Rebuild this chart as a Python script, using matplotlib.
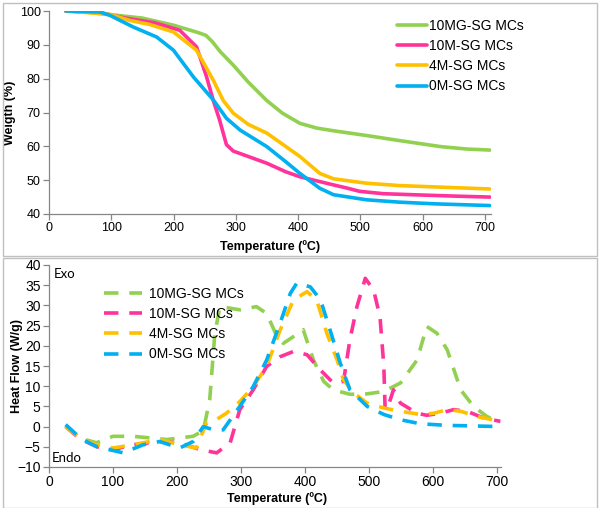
"""TGA and DSC curves of the SG microcapsules"""

import numpy as np
import matplotlib.pyplot as plt
from matplotlib.patches import Rectangle

plt.rcParams['font.family'] = ['Liberation Sans', 'DejaVu Sans']

labels = ['10MG-SG MCs', '10M-SG MCs', '4M-SG MCs', '0M-SG MCs']
colors = ['#92D050', '#FF3399', '#FFC000', '#00B0F0']

# TGA data (weight %)
t_10mg = [27, 60, 100, 150, 200, 240, 252, 262, 275, 296, 320, 350, 375, 403, 430, 457, 510, 563, 600, 630, 671, 708]
w_10mg = [100, 99.7, 98.9, 97.9, 95.8, 93.6, 92.8, 91.0, 88.0, 84.0, 79.0, 73.5, 69.8, 66.8, 65.4, 64.6, 63.2, 61.7, 60.7, 59.9, 59.2, 58.9]

t_10m = [27, 80, 120, 170, 210, 237, 253, 264, 274, 285, 296, 320, 350, 380, 403, 430, 457, 480, 499, 537, 600, 650, 708]
w_10m = [100, 99.6, 98.0, 96.5, 94.3, 89.4, 80.6, 73.5, 67.8, 60.5, 58.6, 57.0, 55.0, 52.5, 51.0, 49.8, 48.6, 47.6, 46.7, 46.0, 45.6, 45.3, 45.0]

t_4m = [27, 98, 130, 162, 200, 237, 264, 280, 296, 320, 350, 380, 403, 435, 457, 510, 563, 620, 708]
w_4m = [100, 99.0, 97.2, 96.0, 93.8, 88.4, 79.5, 73.5, 69.8, 66.5, 63.9, 60.0, 57.0, 52.0, 50.4, 49.1, 48.4, 48.0, 47.4]

t_0m = [27, 82, 98, 135, 173, 200, 232, 264, 285, 307, 350, 380, 403, 435, 457, 510, 563, 620, 708]
w_0m = [100, 99.7, 98.7, 95.3, 92.3, 88.4, 80.5, 73.7, 68.3, 64.8, 59.9, 55.5, 52.0, 47.6, 45.7, 44.2, 43.5, 43.0, 42.5]

# DSC data (heat flow W/g)
d_t_10mg = [26, 48, 74, 100, 131, 184, 225, 241, 251, 259, 267, 283, 298, 324, 340, 356, 366, 382, 397, 413, 429, 444, 470, 497, 523, 549, 575, 590, 606, 622, 643, 663, 684, 705]
d_h_10mg = [0.2, -2.8, -4.0, -2.4, -2.4, -3.2, -2.4, -1.0, 6.6, 23.0, 29.7, 29.3, 28.9, 29.7, 28.0, 22.3, 20.6, 22.3, 24.0, 16.5, 11.2, 9.1, 8.0, 8.1, 8.7, 10.8, 16.5, 24.8, 23.1, 19.0, 9.1, 5.0, 2.5, 0.9]

d_t_10m = [26, 48, 75, 100, 131, 173, 204, 236, 262, 283, 298, 319, 340, 361, 382, 403, 424, 444, 460, 470, 481, 494, 507, 517, 523, 525, 528, 538, 549, 575, 590, 611, 632, 653, 679, 705]
d_h_10m = [0.0, -3.0, -5.0, -5.7, -4.5, -3.7, -4.0, -5.7, -6.5, -4.0, 4.2, 9.1, 14.9, 17.3, 18.6, 17.8, 14.0, 10.8, 11.2, 21.5, 29.7, 36.7, 33.8, 27.2, 14.9, 4.2, 4.2, 9.1, 5.8, 3.3, 2.8, 3.3, 4.2, 3.8, 2.1, 1.3]

d_t_4m = [26, 50, 75, 100, 131, 173, 204, 230, 246, 257, 277, 298, 319, 340, 361, 382, 403, 418, 434, 450, 460, 476, 497, 523, 549, 580, 601, 622, 643, 669, 705]
d_h_4m = [0.0, -3.0, -4.5, -5.3, -4.5, -3.2, -4.5, -5.3, 0.9, 1.3, 3.3, 6.2, 9.9, 14.9, 23.9, 31.4, 33.4, 31.4, 23.1, 16.5, 11.6, 8.3, 5.8, 4.6, 3.8, 3.0, 3.3, 4.2, 3.8, 2.5, 1.3]

d_t_0m = [26, 50, 75, 116, 147, 173, 204, 225, 241, 257, 272, 298, 319, 340, 361, 377, 387, 408, 424, 439, 455, 470, 497, 523, 549, 580, 622, 653, 705]
d_h_0m = [0.5, -3.0, -5.0, -6.5, -4.5, -3.7, -5.3, -3.7, 0.0, -0.8, -0.8, 5.0, 9.9, 16.5, 25.6, 33.0, 35.5, 34.6, 31.4, 23.9, 15.7, 9.1, 5.0, 3.0, 1.7, 0.7, 0.3, 0.2, 0.0]

tga = [(t_10mg, w_10mg), (t_10m, w_10m), (t_4m, w_4m), (t_0m, w_0m)]
dsc = [(d_t_10mg, d_h_10mg), (d_t_10m, d_h_10m), (d_t_4m, d_h_4m), (d_t_0m, d_h_0m)]

fig = plt.figure(figsize=(6, 5.08), dpi=100)

# panel frames
fig.patches.append(Rectangle((3 / 600, 1 - 256 / 508), 594 / 600, 253 / 508, transform=fig.transFigure,
                             fill=False, edgecolor='#c0c0c0', lw=1))
fig.patches.append(Rectangle((3 / 600, 0.0), 594 / 600, 1 - 258 / 508, transform=fig.transFigure,
                             fill=False, edgecolor='#c0c0c0', lw=1))

ax1 = fig.add_axes([49 / 600, 1 - 214 / 508, 442 / 600, 203 / 508])
ax2 = fig.add_axes([49 / 600, 1 - 467 / 508, 452 / 600, 202 / 508])


def style(ax, fs):
    for s in ['top', 'right']:
        ax.spines[s].set_visible(False)
    for s in ['left', 'bottom']:
        ax.spines[s].set_color('#868686')
        ax.spines[s].set_linewidth(0.9)
    ax.tick_params(direction='out', length=4, width=0.9, color='#868686', labelsize=fs, pad=2)


# TGA
for (t, w), c, lab in zip(tga, colors, labels):
    ax1.plot(t, w, color=c, lw=2.6, label=lab, solid_capstyle='round')
ax1.set_xlim(0, 710)
ax1.set_ylim(40, 100)
ax1.set_xticks(range(0, 701, 100))
ax1.set_yticks(range(40, 101, 10))
style(ax1, 9)
ax1.set_xlabel('Temperature (ºC)', fontsize=9, fontweight='bold')
ax1.set_ylabel('Weigth (%)', fontsize=9, fontweight='bold')
ax1.xaxis.set_label_coords(0.5, -0.128)
ax1.yaxis.set_label_coords(-0.075, 0.5)
ax1.legend(loc='upper left', bbox_to_anchor=(0.765, 1.01), frameon=False, fontsize=10,
           handlelength=2.2, handletextpad=0.15, labelspacing=0.45, borderaxespad=0.3)

# DSC
for (t, h), c, lab in zip(dsc, colors, labels):
    ax2.plot(t, h, color=c, lw=2.6, ls=(0, (4, 3)), label=lab)
ax2.set_xlim(0, 706)
ax2.set_ylim(-10, 40)
ax2.set_xticks(range(0, 701, 100))
ax2.set_yticks(range(-10, 41, 5))
style(ax2, 10)
ax2.set_xlabel('Temperature (ºC)', fontsize=9, fontweight='bold')
ax2.set_ylabel('Heat Flow (W/g)', fontsize=9, fontweight='bold')
ax2.xaxis.set_label_coords(0.505, -0.125)
ax2.yaxis.set_label_coords(-0.058, 0.5)
ax2.legend(loc='upper left', bbox_to_anchor=(0.11, 0.92), frameon=False, fontsize=10,
           handlelength=2.7, handletextpad=0.5, labelspacing=0.45, borderaxespad=0.0)
ax2.text(0.01, 0.985, 'Exo', transform=ax2.transAxes, fontsize=9.5, family=['Lato', 'DejaVu Sans'],
         va='top', ha='left')
ax2.text(0.005, 0.015, 'Endo', transform=ax2.transAxes, fontsize=9.5, family=['Lato', 'DejaVu Sans'],
         va='bottom', ha='left')

plt.savefig('out.png', dpi=100)
